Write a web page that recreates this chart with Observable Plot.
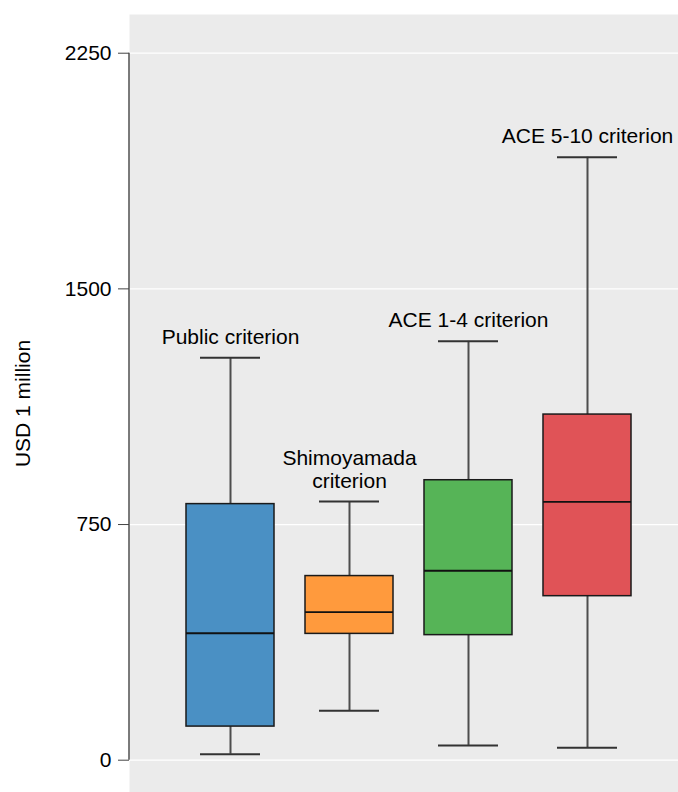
<!DOCTYPE html>
<html>
<head>
<meta charset="utf-8">
<script src="https://cdn.jsdelivr.net/npm/d3@7"></script>
<script src="https://cdn.jsdelivr.net/npm/@observablehq/plot@0.6"></script>
<style>
  html, body { margin: 0; padding: 0; background: #fff; }
  #chart svg { display: block; }
</style>
</head>
<body>
<div id="chart"></div>
<script>
const categories = ["Public", "Shimoyamada", "ACE 1-4", "ACE 5-10"];
const labels = ["Public criterion", "Shimoyamada\ncriterion", "ACE 1-4 criterion", "ACE 5-10 criterion"];
const lowWhisker = [19, 157, 47, 40];
const q1 = [107, 402, 398, 522];
const median = [404, 471, 603, 822];
const q3 = [815, 586, 891, 1100];
const highWhisker = [1281, 823, 1333, 1919];
const colors = ["#4a90c4", "#ff9a3d", "#56b457", "#e05357"];
const yTicks = [0, 750, 1500, 2250];

const data = categories.map((c, i) => ({
  cat: c, label: labels[i], low: lowWhisker[i], q1: q1[i],
  median: median[i], q3: q3[i], high: highWhisker[i]
}));

const font = "'Liberation Sans', Arial, Helvetica, sans-serif";

const axisLine = (index, scales, values, dims) => {
  const line = d3.create("svg:line")
    .attr("x1", dims.marginLeft).attr("x2", dims.marginLeft)
    .attr("y1", scales.y(yTicks[0])).attr("y2", scales.y(yTicks[yTicks.length - 1]))
    .attr("stroke", "#444").attr("stroke-width", 1.4);
  return line.node();
};

const chart = Plot.plot({
  width: 678,
  height: 792,
  marginLeft: 129,
  marginRight: 0,
  marginTop: 14,
  marginBottom: 0,
  style: { fontFamily: font, fontSize: "21px", color: "#000", background: "#fff" },
  x: { domain: categories, range: [170.5, 646.5], paddingInner: 0.26, paddingOuter: 0.13, axis: null },
  y: { domain: [-102.8, 2373.2], axis: null },
  color: { domain: categories, range: colors },
  marks: [
    Plot.frame({ fill: "#ebebeb" }),
    Plot.gridY(yTicks, { stroke: "#ffffff", strokeOpacity: 1, strokeWidth: 1.2 }),
    Plot.axisY(yTicks, {
      tickSize: 11, tickPadding: 7, stroke: "#444", fontSize: 21,
      tickFormat: d => String(d),
      label: "USD 1 million", labelAnchor: "center", labelOffset: 114, labelArrow: "none"
    }),
    axisLine,
    Plot.ruleX(data, { x: "cat", y1: "q3", y2: "high", stroke: "#4d4d4d", strokeWidth: 2 }),
    Plot.ruleX(data, { x: "cat", y1: "low", y2: "q1", stroke: "#4d4d4d", strokeWidth: 2 }),
    Plot.tickY(data, { x: "cat", y: "high", inset: 14, stroke: "#333", strokeWidth: 2 }),
    Plot.tickY(data, { x: "cat", y: "low", inset: 14, stroke: "#333", strokeWidth: 2 }),
    Plot.barY(data, { x: "cat", y1: "q1", y2: "q3", fill: "cat", stroke: "#1a1a1a", strokeWidth: 1.5 }),
    Plot.tickY(data, { x: "cat", y: "median", stroke: "#111", strokeWidth: 1.8 }),
    Plot.text(data, {
      x: "cat", y: "high", text: "label", dy: -14, lineAnchor: "bottom",
      lineHeight: 1.1, fontSize: 21, fill: "#000"
    })
  ]
});

document.getElementById("chart").appendChild(chart);
</script>
</body>
</html>
